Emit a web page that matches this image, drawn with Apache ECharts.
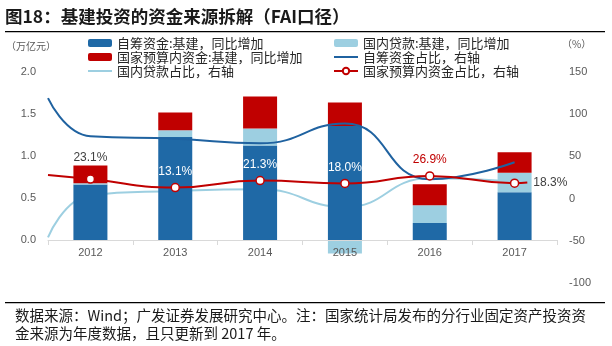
<!DOCTYPE html>
<html>
<head>
<meta charset="utf-8">
<script src="https://cdn.jsdelivr.net/npm/echarts@6/dist/echarts.min.js"></script>
<style>html,body{margin:0;padding:0;background:#fff;}#c{width:612px;height:346px;}</style>
</head>
<body>
<div id="c"></div>
<script>
// ---- data ----
const years = ['2012', '2013', '2014', '2015', '2016', '2017'];
const selfFundYoY = [0.667, 1.23, 1.13, 1.36, 0.21, 0.575];     // 自筹资金:基建，同比增加 (万亿元)
const loanYoY = [0.015, 0.08, 0.20, -0.15, 0.21, 0.23];          // 国内贷款:基建，同比增加
const budgetYoY = [0.21, 0.21, 0.38, 0.28, 0.25, 0.245];         // 国家预算内资金:基建，同比增加
// shares (%), right axis; "Start" = curve start at left edge of plot
const selfShareStart = 119;
const selfShare = [74, 71, 65.5, 89, 23, 43];
const loanShareStart = -46;
const loanShare = [4, 9, 11, -10, 24, 20];
const budgetShareStart = 28;
const budgetShare = [23.1, 13.1, 21.3, 18.0, 26.9, 18.3];
const budgetShareTail = 19;
const leftTicks = [0, 0.5, 1, 1.5, 2];
const rightTicks = [-100, -50, 0, 50, 100, 150];

const CJK = '"Noto Sans CJK SC", "Liberation Sans", sans-serif';
const NUM = '"Liberation Sans", Arial, sans-serif';
const C_BLUE = '#1F69A6', C_LIGHT = '#9DCFE1', C_RED = '#C00000', C_LINE = '#1F62A0';

function linePts(start, vals, tail) {
  const pts = [{ value: [0, start], symbol: 'none' }];
  vals.forEach((v, i) => pts.push([i + 0.5, v]));
  if (tail !== undefined) pts.push({ value: [vals.length - 0.35, tail], symbol: 'none' });
  return pts;
}

const budgetPts = linePts(budgetShareStart, budgetShare, budgetShareTail);
const labelCfg = [
  { color: '#404040', position: 'top', distance: 11 },
  { color: '#ffffff', position: 'top', distance: 5 },
  { color: '#ffffff', position: 'top', distance: 5 },
  { color: '#ffffff', position: 'top', distance: 5 },
  { color: C_RED, position: 'top', distance: 5 },
  { color: '#404040', position: 'right', distance: 14 }
];
labelCfg.forEach((c, i) => {
  const p = budgetPts[i + 1];
  budgetPts[i + 1] = {
    value: p,
    label: { show: true, position: c.position, distance: c.distance, color: c.color,
      fontSize: 12, fontFamily: NUM, formatter: (budgetShare[i].toFixed(1)) + '%' }
  };
});

const chart = echarts.init(document.getElementById('c'), null, { renderer: 'canvas' });
const legendText = { fontSize: 13, fontFamily: CJK, color: '#262626', lineHeight: 14 };
const LINE_ICON = 'path://M0,0 H24 V2 H0 Z';
chart.setOption({
  animation: false,
  backgroundColor: '#fff',
  grid: [
    { left: 48, right: 55, top: 72, bottom: 63, containLabel: false },   // data grid
    { left: 48, right: 55, top: 72, bottom: 106, containLabel: false }   // axis grid (0 .. 2.0)
  ],
  legend: [
    { left: 88, top: 36, orient: 'vertical', padding: 0, itemGap: 0, itemWidth: 24, itemHeight: 8,
      textStyle: legendText,
      data: ['自筹资金:基建，同比增加', '国家预算内资金:基建，同比增加',
        { name: '国内贷款占比，右轴', icon: LINE_ICON }] },
    { left: 333, top: 36, orient: 'vertical', padding: 0, itemGap: 0, itemWidth: 24, itemHeight: 8,
      textStyle: legendText,
      data: ['国内贷款:基建，同比增加', { name: '自筹资金占比，右轴', icon: LINE_ICON }, '国家预算内资金占比，右轴'] }
  ],
  xAxis: [
    { type: 'category', data: years, gridIndex: 0, boundaryGap: true, show: false },
    { type: 'value', min: 0, max: years.length, gridIndex: 0, show: false },
    { type: 'category', data: years, gridIndex: 1, boundaryGap: true, z: 10,
      axisLine: { show: true, onZero: false, lineStyle: { color: '#D9D9D9', width: 1 } },
      axisTick: { show: true, length: 5, lineStyle: { color: '#D9D9D9' } },
      axisLabel: { color: '#595959', fontSize: 11, fontFamily: NUM, margin: 7 } }
  ],
  yAxis: [
    { type: 'value', min: -0.5, max: 2, interval: 0.5, gridIndex: 0, show: false },
    { type: 'value', min: -100, max: 150, interval: 50, gridIndex: 0, position: 'right',
      axisLine: { show: false }, axisTick: { show: false }, splitLine: { show: false },
      axisLabel: { color: '#595959', fontSize: 11, fontFamily: NUM, margin: 12,
        formatter: v => (rightTicks.indexOf(v) >= 0 ? String(v) : '') } },
    { type: 'value', min: 0, max: 2, interval: 0.5, gridIndex: 1, position: 'left',
      axisLine: { show: false }, axisTick: { show: false }, splitLine: { show: false },
      axisLabel: { color: '#595959', fontSize: 11, fontFamily: NUM, margin: 12,
        formatter: v => (leftTicks.indexOf(Math.round(v * 10) / 10) >= 0 ? v.toFixed(1) : '') } }
  ],
  series: [
    { name: '自筹资金:基建，同比增加', type: 'bar', stack: 'yoy', data: selfFundYoY, barWidth: 34,
      xAxisIndex: 0, yAxisIndex: 0, itemStyle: { color: C_BLUE }, z: 2 },
    { name: '国内贷款:基建，同比增加', type: 'bar', stack: 'yoy', data: loanYoY, barWidth: 34,
      xAxisIndex: 0, yAxisIndex: 0, itemStyle: { color: C_LIGHT }, z: 2 },
    { name: '国家预算内资金:基建，同比增加', type: 'bar', stack: 'yoy', data: budgetYoY, barWidth: 34,
      xAxisIndex: 0, yAxisIndex: 0, itemStyle: { color: C_RED }, z: 2 },
    { name: '国内贷款占比，右轴', type: 'line', xAxisIndex: 1, yAxisIndex: 1, smooth: 0.5,
      data: linePts(loanShareStart, loanShare), symbol: 'none', showSymbol: false,
      lineStyle: { color: C_LIGHT, width: 2 }, itemStyle: { color: C_LIGHT }, z: 1 },
    { name: '自筹资金占比，右轴', type: 'line', xAxisIndex: 1, yAxisIndex: 1, smooth: 0.5,
      data: linePts(selfShareStart, selfShare), symbol: 'none', showSymbol: false,
      lineStyle: { color: C_LINE, width: 2 }, itemStyle: { color: C_LINE }, z: 3 },
    { name: '国家预算内资金占比，右轴', type: 'line', xAxisIndex: 1, yAxisIndex: 1, smooth: 0.5,
      data: budgetPts, symbol: 'circle', symbolSize: 8,
      lineStyle: { color: C_RED, width: 2 }, itemStyle: { color: '#fff', borderColor: C_RED, borderWidth: 1.5 },
      z: 4 }
  ],
  graphic: [
    { type: 'text', left: 5, top: 8, style: { text: '图18：基建投资的资金来源拆解（FAI口径）',
      font: 'bold 17.5px ' + CJK, fill: '#1a1a1a' } },
    { type: 'rect', shape: { x: 5, y: 31, width: 600, height: 1.3 }, style: { fill: '#000' } },
    { type: 'text', left: 6, top: 41, style: { text: '（万亿元）', font: '10px ' + CJK, fill: '#595959' } },
    { type: 'text', left: 562, top: 39, style: { text: '（%）', font: '10px ' + CJK, fill: '#595959' } },
    { type: 'rect', shape: { x: 5, y: 302, width: 600, height: 1.3 }, style: { fill: '#000' } },
    { type: 'text', left: 15, top: 307, style: { text: '数据来源：Wind；广发证券发展研究中心。注：国家统计局发布的分行业固定资产投资资\n金来源为年度数据，且只更新到 2017 年。',
      font: '14.5px ' + CJK, fill: '#1a1a1a', lineHeight: 17.5 } }
  ]
});
</script>
</body>
</html>
